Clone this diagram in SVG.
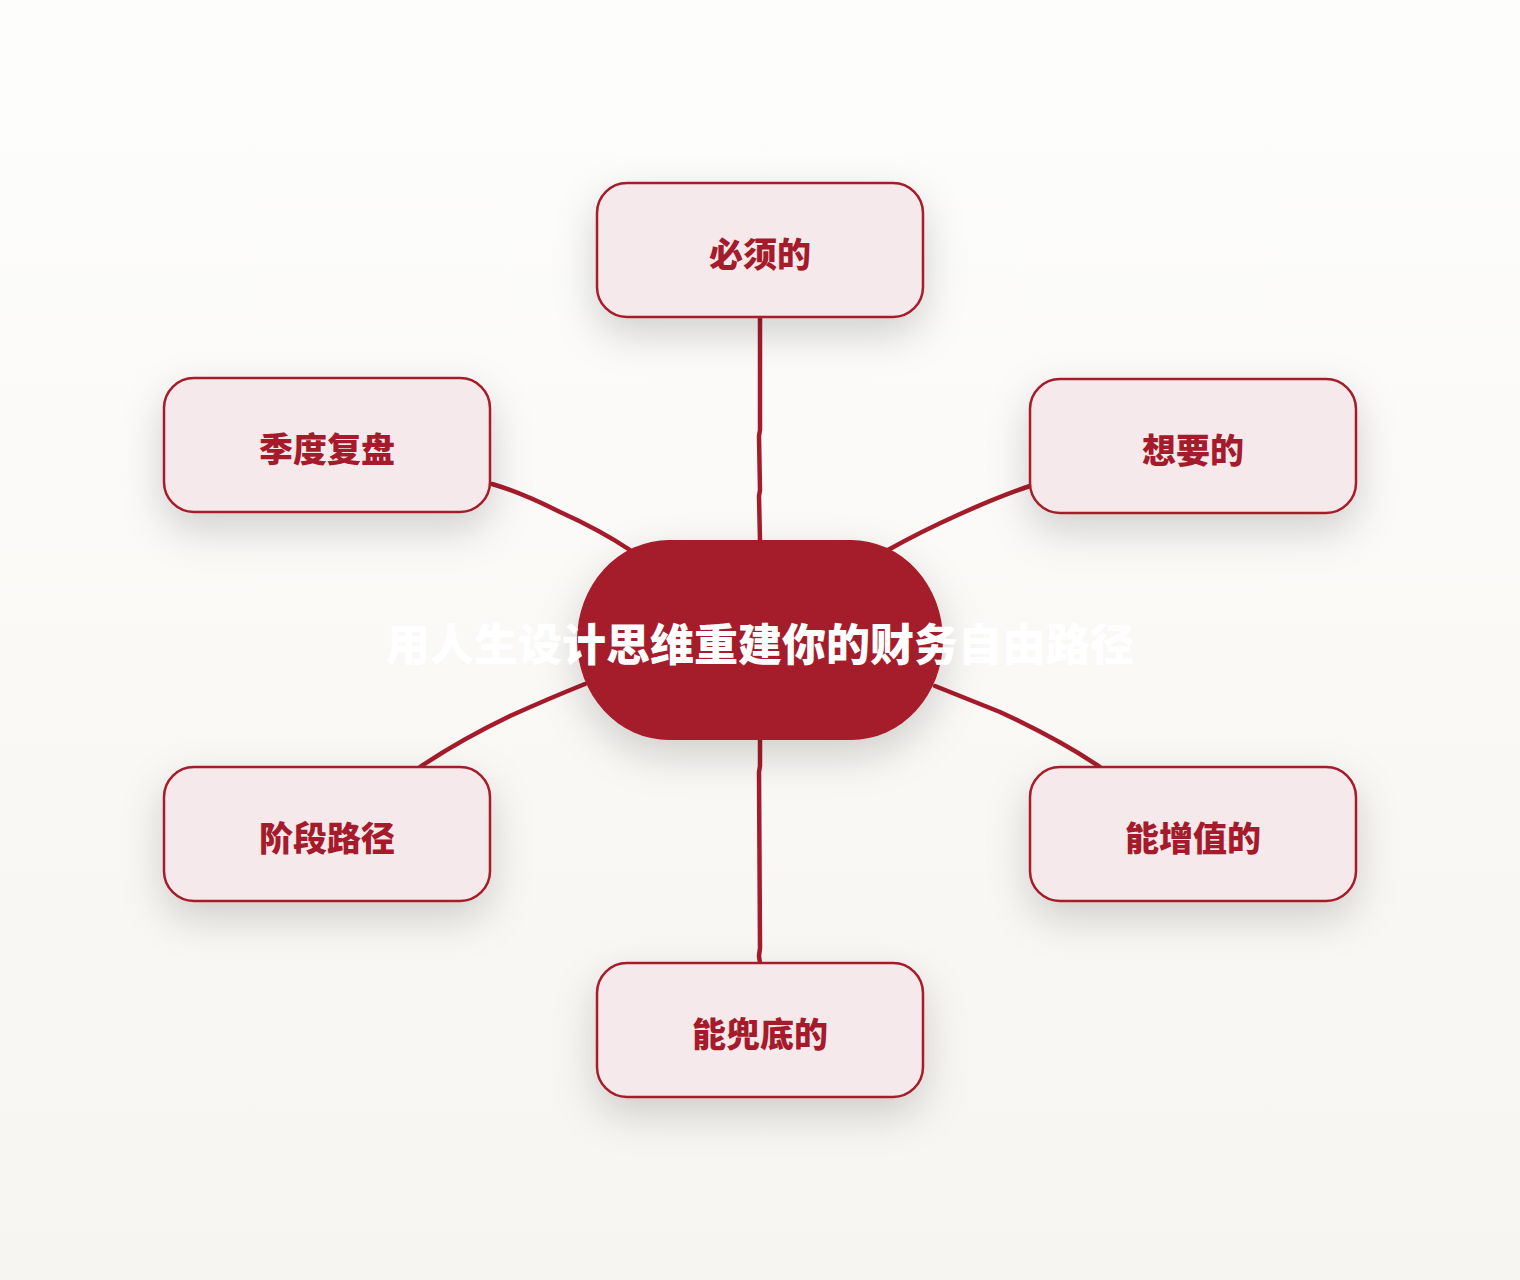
<svg xmlns="http://www.w3.org/2000/svg" width="1520" height="1280" viewBox="0 0 1520 1280">
<defs>
<linearGradient id="bg" x1="0" y1="0" x2="0" y2="1">
<stop offset="0" stop-color="#fdfdfc"/>
<stop offset="1" stop-color="#f7f5f1"/>
</linearGradient>
<filter id="sh" x="-40%" y="-40%" width="180%" height="200%">
<feDropShadow dx="0" dy="16" stdDeviation="20" flood-color="#000" flood-opacity="0.17"/>
</filter>
</defs>
<style>
.node rect{fill:#f5e9eb;stroke:#a51b2b;stroke-width:2.5}
.node text{fill:#a51b2b;font-family:"Noto Sans CJK SC","Noto Sans",sans-serif;font-weight:800;font-size:34px;text-anchor:middle;dominant-baseline:central}
.edge{fill:none;stroke:#a51b2b;stroke-width:4.5;stroke-linecap:round;stroke-linejoin:round}
.center text{fill:#ffffff;font-family:"Noto Sans CJK SC","Noto Sans",sans-serif;font-weight:800;font-size:44px;text-anchor:middle;dominant-baseline:central}
</style>
<rect width="1520" height="1280" fill="url(#bg)"/>
<g id="connectors">
<path class="edge" d="M760 318 L760 430 L759 436 L760 490 L759 496 L760 541"/>
<path class="edge" d="M760 740 L760 766 L759 772 L760 948 L759 956 L760 963"/>
<path class="edge" d="M492 484 Q520 492 560 512 Q600 530 630 550"/>
<path class="edge" d="M1030 486 Q1000 496 960 514 Q920 532 888 550"/>
<path class="edge" d="M585 684 Q550 698 510 716 Q460 740 420 767"/>
<path class="edge" d="M935 686 Q970 700 1000 712 Q1060 740 1100 767"/>
</g>
<g id="center" class="center">
<rect x="577" y="540" width="366" height="200" rx="92" ry="100" fill="#a51b2b" filter="url(#sh)"/>
<text x="760" y="642">用人生设计思维重建你的财务自由路径</text>
</g>
<g id="node-must" class="node">
<rect x="597" y="183" width="326" height="134" rx="30" filter="url(#sh)"/>
<text x="760" y="252">必须的</text>
</g>
<g id="node-quarter" class="node">
<rect x="164" y="378" width="326" height="134" rx="30" filter="url(#sh)"/>
<text x="327" y="447">季度复盘</text>
</g>
<g id="node-want" class="node">
<rect x="1030" y="379" width="326" height="134" rx="30" filter="url(#sh)"/>
<text x="1193" y="448">想要的</text>
</g>
<g id="node-stage" class="node">
<rect x="164" y="767" width="326" height="134" rx="30" filter="url(#sh)"/>
<text x="327" y="836">阶段路径</text>
</g>
<g id="node-grow" class="node">
<rect x="1030" y="767" width="326" height="134" rx="30" filter="url(#sh)"/>
<text x="1193" y="836">能增值的</text>
</g>
<g id="node-safe" class="node">
<rect x="597" y="963" width="326" height="134" rx="30" filter="url(#sh)"/>
<text x="760" y="1032">能兜底的</text>
</g>
</svg>
